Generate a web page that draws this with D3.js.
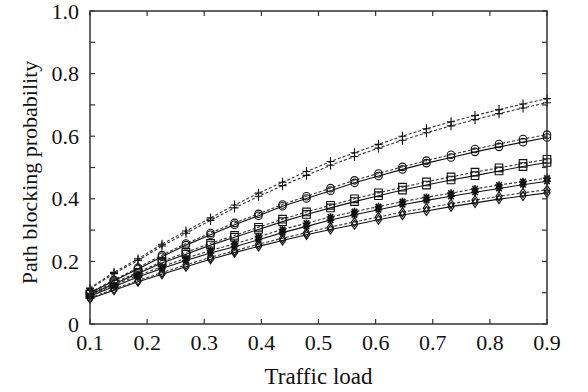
<!DOCTYPE html>
<html>
<head>
<meta charset="utf-8">
<script src="https://cdn.jsdelivr.net/npm/d3@7"></script>
<style>
  body { margin: 0; background: #fff; }
  text { font-family: "Liberation Serif", "Times New Roman", "DejaVu Serif", serif; fill: #111; }
</style>
</head>
<body>
<div id="chart"></div>
<script>
// === data ===
const trafficLoad = [0.1, 0.142, 0.184, 0.226, 0.268, 0.311, 0.353, 0.395, 0.437, 0.479,
                     0.521, 0.563, 0.605, 0.647, 0.689, 0.732, 0.774, 0.816, 0.858, 0.9];

const plusUpper  = [0.115, 0.165, 0.208, 0.255, 0.297, 0.339, 0.380, 0.418, 0.453, 0.487, 0.519, 0.547, 0.574, 0.600, 0.624, 0.646, 0.666, 0.685, 0.703, 0.720];
const plusLower  = [0.113, 0.161, 0.203, 0.249, 0.290, 0.331, 0.371, 0.408, 0.442, 0.475, 0.507, 0.535, 0.562, 0.587, 0.611, 0.633, 0.653, 0.672, 0.690, 0.707];
const circDash   = [0.101, 0.141, 0.180, 0.220, 0.257, 0.291, 0.323, 0.352, 0.382, 0.408, 0.434, 0.459, 0.481, 0.502, 0.522, 0.541, 0.559, 0.575, 0.591, 0.605];
const circSolid  = [0.099, 0.138, 0.176, 0.215, 0.252, 0.285, 0.317, 0.346, 0.376, 0.401, 0.426, 0.451, 0.473, 0.494, 0.514, 0.532, 0.550, 0.566, 0.581, 0.596];
const sqDash     = [0.096, 0.132, 0.165, 0.200, 0.229, 0.258, 0.283, 0.309, 0.335, 0.358, 0.379, 0.400, 0.419, 0.437, 0.454, 0.470, 0.485, 0.499, 0.513, 0.526];
const sqSolid    = [0.094, 0.128, 0.161, 0.195, 0.223, 0.252, 0.277, 0.302, 0.327, 0.350, 0.371, 0.391, 0.410, 0.428, 0.444, 0.460, 0.474, 0.489, 0.503, 0.516];
const starDash   = [0.091, 0.124, 0.155, 0.183, 0.210, 0.235, 0.256, 0.279, 0.302, 0.322, 0.342, 0.359, 0.375, 0.391, 0.405, 0.418, 0.432, 0.444, 0.455, 0.466];
const starSolid  = [0.089, 0.120, 0.150, 0.177, 0.203, 0.227, 0.247, 0.269, 0.292, 0.312, 0.332, 0.349, 0.365, 0.381, 0.395, 0.408, 0.421, 0.433, 0.445, 0.456];
const diaDash    = [0.083, 0.112, 0.139, 0.164, 0.189, 0.213, 0.234, 0.255, 0.274, 0.292, 0.310, 0.326, 0.342, 0.357, 0.371, 0.384, 0.396, 0.408, 0.419, 0.429];
const diaSolid   = [0.081, 0.108, 0.135, 0.159, 0.183, 0.207, 0.228, 0.248, 0.267, 0.285, 0.302, 0.317, 0.333, 0.348, 0.361, 0.375, 0.387, 0.399, 0.409, 0.419];

const xTicks = [0.1, 0.2, 0.3, 0.4, 0.5, 0.6, 0.7, 0.8, 0.9];
const yTicks = [0, 0.1, 0.2, 0.3, 0.4, 0.5, 0.6, 0.7, 0.8, 0.9, 1.0];
const yLabelTicks = [0, 0.2, 0.4, 0.6, 0.8, 1.0];

const series = [
  {values: plusUpper, dashed: true,  marker: "plus"},
  {values: plusLower, dashed: true,  marker: "plus"},
  {values: circDash,  dashed: true,  marker: "circle"},
  {values: circSolid, dashed: false, marker: "circle"},
  {values: sqDash,    dashed: true,  marker: "square"},
  {values: sqSolid,   dashed: false, marker: "square"},
  {values: starDash,  dashed: true,  marker: "star"},
  {values: starSolid, dashed: false, marker: "star"},
  {values: diaDash,   dashed: true,  marker: "diamond"},
  {values: diaSolid,  dashed: false, marker: "diamond"}
];

// === layout ===
const width = 588, height = 392;
const margin = {top: 11, right: 41, bottom: 68, left: 90};
const innerW = width - margin.left - margin.right;
const innerH = height - margin.top - margin.bottom;

const svg = d3.select("#chart").append("svg")
    .attr("width", width).attr("height", height);
const g = svg.append("g").attr("transform", `translate(${margin.left},${margin.top})`);

const x = d3.scaleLinear().domain([0.1, 0.9]).range([0, innerW]);
const y = d3.scaleLinear().domain([0, 1]).range([innerH, 0]);

// markers as plain paths
const markerPath = {
  plus: "M-4,0H4M0,-4.5V4.5",
  circle: d3.symbol(d3.symbolCircle, 44)(),
  square: "M-3.8,-3.8H3.8V3.8H-3.8Z",
  star: "M-3.8,0H3.8M0,-3.8V3.8M-2.8,-2.8L2.8,2.8M-2.8,2.8L2.8,-2.8",
  diamond: "M0,-4.6L3.1,0L0,4.6L-3.1,0Z"
};

const line = d3.line()
    .x((d, i) => x(trafficLoad[i]))
    .y(d => y(d));

series.forEach(s => {
  g.append("path")
      .attr("d", line(s.values))
      .attr("fill", "none")
      .attr("stroke", s.dashed ? "#333" : "#111")
      .attr("stroke-width", 1.1)
      .attr("stroke-dasharray", s.dashed ? "3,2" : null);

  g.append("g").selectAll("path")
    .data(s.values)
    .join("path")
      .attr("transform", (d, i) => `translate(${x(trafficLoad[i])},${y(d)})`)
      .attr("d", markerPath[s.marker])
      .attr("fill", "none")
      .attr("stroke", "#111")
      .attr("stroke-width", s.marker === "star" ? 1.6 : 1.1);
});

// frame
g.append("rect")
    .attr("width", innerW).attr("height", innerH)
    .attr("fill", "none").attr("stroke", "#333").attr("stroke-width", 1.5);

// inward ticks on all four sides
const tickLen = 5;
const tickStyle = sel => sel.attr("stroke", "#333").attr("stroke-width", 1.2);
g.append("g").selectAll("line").data(xTicks).join("line")
    .attr("x1", d => x(d)).attr("x2", d => x(d))
    .attr("y1", innerH).attr("y2", innerH - tickLen).call(tickStyle);
g.append("g").selectAll("line").data(xTicks).join("line")
    .attr("x1", d => x(d)).attr("x2", d => x(d))
    .attr("y1", 0).attr("y2", tickLen).call(tickStyle);
g.append("g").selectAll("line").data(yTicks).join("line")
    .attr("x1", 0).attr("x2", tickLen)
    .attr("y1", d => y(d)).attr("y2", d => y(d)).call(tickStyle);
g.append("g").selectAll("line").data(yTicks).join("line")
    .attr("x1", innerW).attr("x2", innerW - tickLen)
    .attr("y1", d => y(d)).attr("y2", d => y(d)).call(tickStyle);

// tick labels
g.append("g").selectAll("text").data(xTicks).join("text")
    .attr("x", d => x(d)).attr("y", innerH + 26)
    .attr("text-anchor", "middle")
    .style("font-size", "22px")
    .text(d => d3.format(".1f")(d));
g.append("g").selectAll("text").data(yLabelTicks).join("text")
    .attr("x", -11).attr("y", d => y(d) + 7.5)
    .attr("text-anchor", "end")
    .style("font-size", "22px")
    .text(d => d === 0 ? "0" : d3.format(".1f")(d));

// axis titles
svg.append("text")
    .attr("x", margin.left + innerW / 2).attr("y", 384)
    .attr("text-anchor", "middle")
    .style("font-size", "23px")
    .text("Traffic load");
svg.append("text")
    .attr("transform", `translate(37,${margin.top + innerH / 2 + 5}) rotate(-90)`)
    .attr("text-anchor", "middle")
    .style("font-size", "22px")
    .text("Path blocking probability");
</script>
</body>
</html>
